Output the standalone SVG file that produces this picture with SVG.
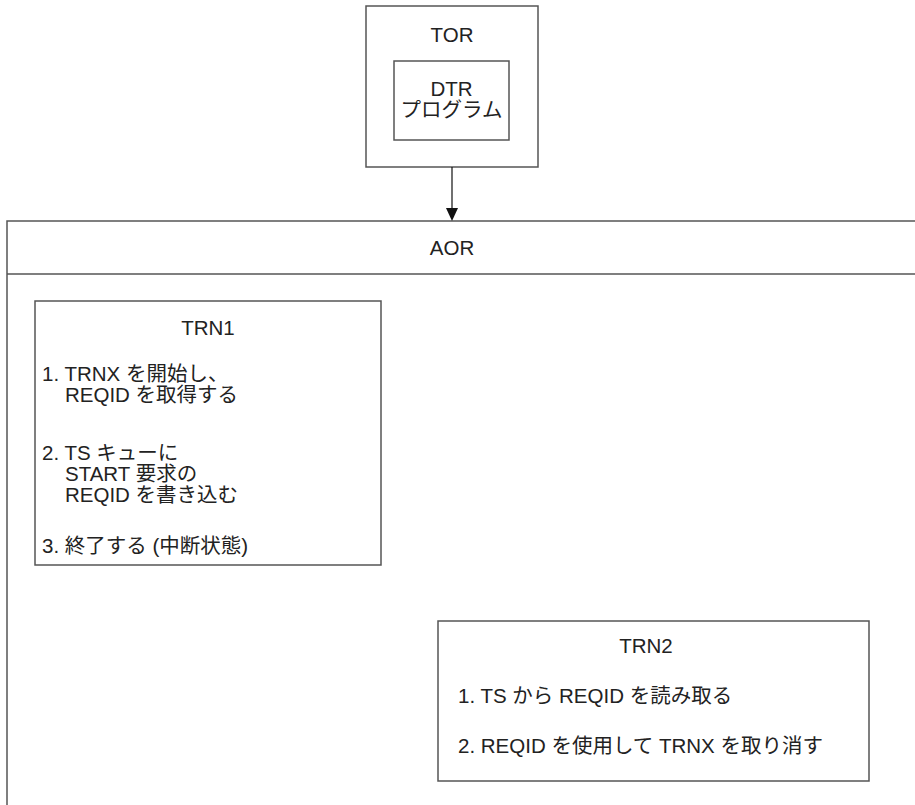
<svg xmlns="http://www.w3.org/2000/svg" width="915" height="805" viewBox="0 0 915 805">
<defs>
<style>
.box{fill:#fff;stroke:#555;stroke-width:1.5}
.t{font-family:"Liberation Sans","Noto Sans CJK JP",sans-serif;font-size:20.5px;fill:#222}
.c{text-anchor:middle}
.conn{stroke:#111;stroke-width:1.2;fill:none}
.head{fill:#111}
</style>
</defs>
<rect width="915" height="805" fill="#fff"/>
<g id="aor">
<rect class="box" x="7" y="221" width="1000" height="700"/>
<line x1="7" y1="274" x2="915" y2="274" stroke="#555" stroke-width="1.5"/>
<text class="t c" x="452" y="255">AOR</text>
</g>
<g id="tor">
<rect class="box" x="366" y="6" width="172" height="161"/>
<text class="t c" x="452" y="42">TOR</text>
</g>
<g id="dtr">
<rect class="box" x="394" y="61" width="115" height="79"/>
<text class="t c" x="451.5" y="96">DTR</text>
<text class="t c" x="451.5" y="117">プログラム</text>
</g>
<g id="trn1">
<rect class="box" x="35" y="301" width="346" height="264"/>
<text class="t c" x="208" y="335">TRN1</text>
<text class="t" x="42" y="381">1. TRNX を開始し、</text>
<text class="t" x="65" y="402">REQID を取得する</text>
<text class="t" x="42" y="460">2. TS キューに</text>
<text class="t" x="65" y="481">START 要求の</text>
<text class="t" x="65" y="502">REQID を書き込む</text>
<text class="t" x="42" y="553">3. 終了する (中断状態)</text>
</g>
<g id="trn2">
<rect class="box" x="438" y="621" width="431" height="160"/>
<text class="t c" x="646" y="653">TRN2</text>
<text class="t" x="458" y="703">1. TS から REQID を読み取る</text>
<text class="t" x="458" y="753">2. REQID を使用して TRNX を取り消す</text>
</g>
<g id="connectors">
<line class="conn" x1="452" y1="167" x2="452" y2="209"/>
<path class="head" d="M446,208 L458,208 L452,221 Z"/>
</g>
</svg>
